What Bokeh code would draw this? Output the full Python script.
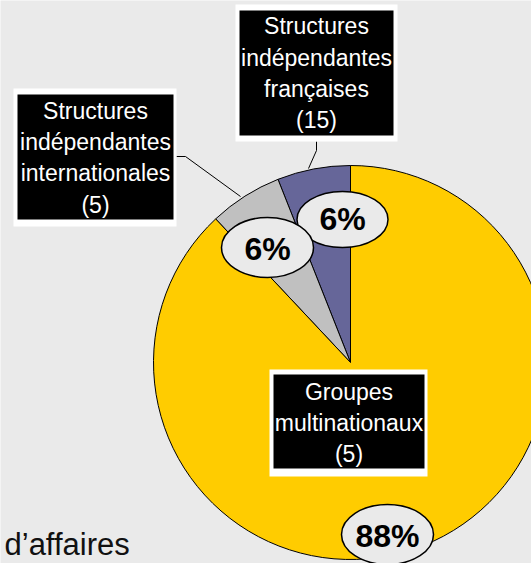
import numpy as np
from bokeh.plotting import figure
from bokeh.models import Range1d
from bokeh.core.properties import value
from bokeh.embed import file_html
from bokeh.resources import INLINE

# ---- data ----
categories = ["Structures indépendantes françaises",
              "Structures indépendantes internationales",
              "Groupes multinationaux"]
shares = [6, 6, 88]  # percent
counts_text = ["(15)", "(5)", "(5)"]
colors = ["#666699", "#C0C0C0", "#FFCC00"]
pct_labels = [f"{s}%" for s in shares]

# ---- layout (reference pixel coordinates, y measured from top) ----
PAGE_W, PAGE_H = 531, 563
W, H = PAGE_W, PAGE_H


def Y(y):
    return PAGE_H - y


def mid(baseline, fs):
    # convert a text baseline position to its visual middle
    return Y(baseline - 0.36 * fs)


p = figure(width=W, height=H, output_backend="svg", toolbar_location=None,
           x_range=Range1d(0, W), y_range=Range1d(0, H), min_border=0)
p.axis.visible = False
p.grid.visible = False
p.outline_line_color = None
p.background_fill_color = "#EAEAEA"
p.border_fill_color = "#EAEAEA"

# pie
cx, cy, r = 350, 362, 197
fr = np.array(shares, dtype=float) / sum(shares)
cum = np.concatenate([[0], np.cumsum(fr)])
start = np.pi / 2 + 2 * np.pi * cum[:-1]
end = np.pi / 2 + 2 * np.pi * cum[1:]
p.wedge(x=[cx] * 3, y=[Y(cy)] * 3, radius=r, start_angle=list(start), end_angle=list(end),
        fill_color=colors, line_color="black", line_width=1)

# leader lines
p.line(x=[176, 185, 240], y=[Y(156), Y(156), Y(196)], line_color="black", line_width=1)
p.line(x=[316, 316, 308], y=[Y(141), Y(150), Y(168)], line_color="black", line_width=1)

FS = 23
boxes = [
    ((235, 397, 4, 141), (239, 393, 10, 135), 316, [34, 65.5, 96.5, 128],
     ["Structures", "indépendantes", "françaises", counts_text[0]]),
    ((13, 176, 88, 226), (17, 173, 94, 219), 95, [118.5, 149.7, 181, 212.5],
     ["Structures", "indépendantes", "internationales", counts_text[1]]),
    ((269, 427, 369, 476), (273, 424, 374, 468), 348.5, [399.5, 430.5, 461.5],
     ["Groupes", "multinationaux", counts_text[2]]),
]
for outer, inner, tx, bls, lines in boxes:
    p.quad(left=outer[0], right=outer[1], top=Y(outer[2]), bottom=Y(outer[3]),
           fill_color="white", line_color=None)
    p.quad(left=inner[0], right=inner[1], top=Y(inner[2]), bottom=Y(inner[3]),
           fill_color="black", line_color=None)
    p.text(x=[tx] * len(lines), y=[mid(b, FS) for b in bls], text=lines,
           text_color="white", text_font=value("Liberation Sans"),
           text_font_size=f"{FS}px", text_align="center", text_baseline="middle")

# percentage ellipses
PFS = 32
ell = [(342, 219, 91, 56, 230), (267, 247, 92, 60, 260), (387, 534, 92, 60, 547)]
ex = [e[0] for e in ell]
p.ellipse(x=ex, y=[Y(e[1]) for e in ell], width=[e[2] for e in ell],
          height=[e[3] for e in ell], fill_color="#EAEAEA", line_color="black", line_width=1.5)
p.text(x=ex, y=[mid(e[4], PFS) for e in ell], text=pct_labels,
       text_color="black", text_font=value("Liberation Sans"), text_font_style="bold",
       text_font_size=f"{PFS}px", text_align="center", text_baseline="middle")

# partial caption text
CFS = 31
p.text(x=[4], y=[mid(555, CFS)], text=["d\u2019affaires"], text_color="#111111",
       text_font=value("Liberation Sans"), text_font_size=f"{CFS}px",
       text_align="left", text_baseline="middle")

open("out.html", "w").write(file_html(p, INLINE))
